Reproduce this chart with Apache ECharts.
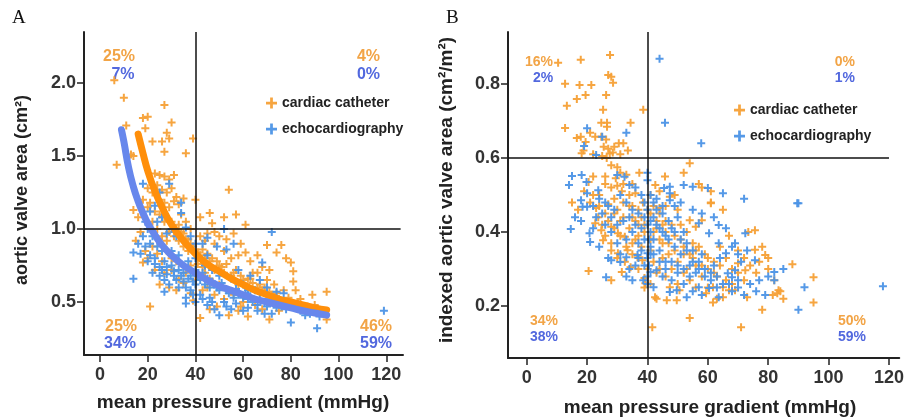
<!DOCTYPE html>
<html><head><meta charset="utf-8">
<script src="https://cdn.jsdelivr.net/npm/echarts@6/dist/echarts.min.js"></script>
<style>html,body{margin:0;padding:0;background:#fff}#c{width:907px;height:417px}</style>
</head><body><div id="c"></div>
<script>
const xTicks = [0,20,40,60,80,100,120];
const yTicksA = [0.5,1.0,1.5,2.0];
const yTicksB = [0.2,0.4,0.6,0.8];
const seriesNames = ['cardiac catheter','echocardiography'];
const xName = 'mean pressure gradient (mmHg)';
const yNameA = 'aortic valve area (cm²)';
const yNameB = 'indexed aortic valve area (cm²/m²)';

const catheterA = [[6,2.02],[10,1.90],[11,1.71],[7,1.44],[13,1.51],[18,1.76],[20,1.77],[19,1.69],[27,1.85],[30,1.73],[28,1.66],[29,1.62],[22,1.60],[26,1.60],[27,1.53],[36,1.52],[39,1.62],[23,1.38],[25,1.37],[27,1.36],[29,1.34],[31,1.37],[54,1.27],[40,1.20],[14,1.50],
[24,1.30],[26,1.27],[28,1.25],[30,1.28],[32,1.22],[25,1.20],[27,1.18],[29,1.15],[31,1.19],[33,1.17],[35,1.21],[22,1.25],[21,1.18],[23,1.12],
[14,1.13],[20,1.15],[46,1.11],[52,1.08],[57,1.10],[61,1.03],[47,1.04],[42,1.08],[45,0.97],[50,0.95],[56,0.97],[59,0.90],[61,0.84],[15,0.92],[18,0.77],[25,0.62],[29,0.60],[21,0.47],[42,0.39],[54,0.41],[49,0.47],[46,0.45],[59,0.47],[62,0.40],[32,0.58],[35,0.63],[38,0.56],[39,0.51],
[70,0.89],[76,0.89],[74,0.84],[78,0.80],[80,0.77],[81,0.71],[68,0.74],[62,0.60],[64,0.63],[71,0.51],[77,0.58],[82,0.58],[81,0.64],[89,0.55],[95,0.57],[95,0.38],[71,0.38],
[30,1.05],[32,1.00],[34,0.98],[36,0.93],[38,0.90],[33,0.92],[35,0.88],[37,0.85],[40,0.86],[42,0.82],[44,0.80],[41,0.76],[43,0.74],[46,0.78],[48,0.72],[50,0.75],[52,0.70],[55,0.68],[57,0.72],[60,0.65],[63,0.66],[58,0.62],[66,0.60],[68,0.58],[72,0.55],[75,0.52],[78,0.50],[83,0.49],[87,0.47],[66,0.70],[70,0.65],[73,0.62],[55,0.80],[52,0.85],[48,0.90],[44,0.92],[38,1.00],[36,1.05],[34,1.10],[28,0.85],[30,0.80],[26,0.78],[24,0.83],[22,0.88],[20,0.80],[45,0.60],[48,0.55],[52,0.52],[56,0.55],[60,0.50],[65,0.48],[40,0.65],[43,0.58],[36,0.70],[33,0.66],[30,0.72],[50,0.62],[68,0.45],[75,0.44],[58,0.44],
[22,1.05],[24,1.00],[26,0.95],[28,0.92],[25,1.10],[27,1.05],[29,0.98],[31,0.95],[33,1.03],[35,0.97],[37,0.93],[39,0.88],[41,0.84],[43,0.86],[45,0.83],[47,0.80],[49,0.78],[51,0.74],[53,0.76],[56,0.70],[59,0.68],[62,0.66],[64,0.70],[67,0.62],[69,0.60],[71,0.57],[74,0.56],[79,0.53],[84,0.52],[90,0.48],[44,0.70],[46,0.66],[38,0.75],[32,0.78],[27,0.70],[23,0.72],[19,0.85],[17,0.98],[16,1.08],[18,1.20],[20,1.28],[42,0.95],[48,0.98],[53,0.93],[58,0.82],[63,0.78],[71,0.72],[66,0.82]];

const echoA = [[14,0.84],[14,0.66],[18,0.95],[21,0.90],[27,0.57],[36,0.49],[40,0.50],[50,0.41],[34,1.11],[28,0.97],[32,0.95],[36,1.01],[43,0.90],[49,0.88],[53,0.86],[25,0.74],[28,0.69],[32,0.65],[36,0.53],[46,0.53],[52,0.50],[56,0.53],[60,0.53],[36,0.60],[18,1.31],[25,1.25],[29,1.31],[34,1.18],[72,0.98],[56,0.90],[52,1.00],[68,0.77],[80,0.36],[91,0.32],[119,0.44],[69,0.42],[74,0.57],[77,0.56],
[20,1.00],[22,0.95],[24,0.88],[26,0.85],[23,0.80],[27,0.78],[30,0.75],[33,0.72],[35,0.70],[38,0.68],[40,0.72],[42,0.65],[44,0.62],[46,0.60],[48,0.62],[50,0.58],[54,0.56],[58,0.55],[62,0.52],[64,0.50],[66,0.48],[70,0.47],[74,0.46],[78,0.45],[84,0.44],[88,0.42],[92,0.40],[30,0.85],[33,0.82],[37,0.78],[40,0.80],[44,0.75],[47,0.72],[50,0.68],[55,0.66],[60,0.62],[65,0.58],[70,0.55],[38,0.58],[42,0.55],[45,0.48],[40,0.62],[35,0.64],[31,0.68],[29,0.62],[25,0.68],[20,0.78],[17,0.83],[48,0.45],[55,0.45],[62,0.46],[66,0.44],[72,0.42],[40,0.90],[38,0.95],[45,0.82],[58,0.72],[63,0.68],[67,0.65],[30,1.00],[24,1.05],
[16,0.90],[19,0.88],[21,0.82],[23,0.76],[26,0.72],[28,0.74],[31,0.71],[34,0.68],[37,0.66],[39,0.64],[41,0.68],[43,0.70],[45,0.66],[47,0.64],[49,0.60],[51,0.63],[53,0.58],[57,0.59],[61,0.56],[63,0.54],[67,0.52],[69,0.50],[73,0.49],[76,0.47],[82,0.46],[86,0.41],[43,0.52],[47,0.50],[53,0.47],[57,0.49],[60,0.44],[39,0.55],[33,0.60],[27,0.65],[22,0.70],[19,1.05],[21,1.12],[23,1.16],[26,1.08],[45,0.94],[62,0.58],[70,0.60]];

const fitCatheterA = [[16,1.65],[18,1.52],[20,1.40],[23,1.26],[26,1.15],[30,1.03],[35,0.92],[40,0.83],[45,0.76],[50,0.71],[55,0.66],[60,0.62],[65,0.58],[70,0.55],[75,0.52],[80,0.50],[85,0.48],[90,0.46],[95,0.445]];
const fitEchoA = [[9,1.68],[10,1.60],[12,1.42],[14,1.29],[16,1.19],[18,1.11],[20,1.04],[23,0.96],[26,0.89],[30,0.82],[35,0.75],[40,0.70],[45,0.65],[50,0.61],[55,0.58],[60,0.55],[65,0.52],[70,0.50],[75,0.48],[80,0.46],[85,0.44],[90,0.425],[95,0.41]];

const catheterB = [[10.4,0.857],[17.9,0.865],[27.6,0.878],[27,0.824],[28,0.819],[28.6,0.803],[12.7,0.80],[17.5,0.797],[21.4,0.797],[13.3,0.741],[16.6,0.759],[19.5,0.77],[26.3,0.77],[12.7,0.681],[25.3,0.73],[24.7,0.695],[26.6,0.695],[26.6,0.684],[34.4,0.695],[38.6,0.73],[16.6,0.654],[17.9,0.657],[19.5,0.643],[21,0.668],[22.7,0.657],[18.8,0.62],[18.2,0.613],[24.7,0.657],[26.3,0.65],
[25.5,0.63],[27,0.625],[29,0.63],[30.5,0.64],[32,0.64],[27.5,0.612],[25,0.605],[26.5,0.60],[28.5,0.615],[31,0.61],[33.5,0.62],[22,0.61],
[28,0.58],[30,0.575],[31,0.56],[29.5,0.545],[22,0.55],[20.5,0.535],[26,0.53],[28,0.52],[30,0.525],[31.5,0.51],[34,0.50],[36,0.505],[37.3,0.56],[33,0.555],[24,0.50],[21,0.48],[19,0.51],[15,0.48],[17,0.46],[23,0.465],[27,0.475],[29,0.49],[32,0.48],[35,0.47],[37,0.46],[38.5,0.48],
[45.8,0.55],[52,0.56],[54,0.586],[57,0.53],[58,0.52],[61,0.51],[61,0.48],[42.6,0.527],[47.4,0.495],[44,0.51],[49,0.50],[41,0.50],
[23.7,0.44],[22.7,0.424],[24.7,0.405],[28,0.414],[30.2,0.397],[25.3,0.378],[28,0.37],[32.5,0.387],[33.4,0.351],[30.2,0.343],[36.7,0.332],[38.3,0.324],[34.4,0.305],[32.5,0.32],[39,0.276],[39.3,0.262],[20.5,0.295],[31.5,0.292],[28,0.27],
[35,0.44],[37,0.42],[39,0.40],[34,0.41],[36,0.38],[38,0.36],[31,0.43],[26,0.45],[29,0.45],
[41,0.45],[43,0.43],[45,0.42],[42,0.40],[44,0.38],[46,0.40],[48,0.42],[47,0.37],[49,0.35],[51,0.38],[52,0.34],[50,0.32],[53,0.30],[55,0.33],[57,0.36],[56,0.31],[59,0.34],[60,0.30],[62,0.32],[58,0.28],[54,0.27],[48,0.30],[45,0.33],[43,0.29],[41,0.35],[46,0.47],[50,0.46],[44,0.465],
[65,0.46],[61,0.478],[58,0.432],[56,0.414],[54,0.432],
[78,0.36],[75.6,0.352],[79,0.338],[75.6,0.405],[73.4,0.4],[70,0.316],[72.4,0.297],[73,0.224],[76,0.29],[42.5,0.224],[43,0.22],[46.4,0.216],[49.7,0.216],[47.4,0.251],[50.6,0.243],[61.7,0.21],[65,0.224],[67,0.243],[69,0.243],[59.4,0.235],[61.7,0.251],[65,0.251],
[41.6,0.143],[54,0.168],[71,0.143],[78,0.19],[88,0.313],[95,0.278],[95,0.21],[85,0.22],[83,0.235],[83.4,0.243],[81.5,0.23],
[64,0.36],[66,0.33],[68,0.30],[70,0.35],[63,0.28],[67,0.39],[72,0.33],[80,0.33],
[30,0.46],[32,0.44],[34,0.47],[36,0.43],[38,0.44],[39,0.42],[37,0.39],[35,0.37],[33,0.36],[31,0.39],[29,0.41],[27,0.43],[25,0.42],[26,0.39],[28,0.35],[30,0.33],[35,0.34],[37,0.30],[42,0.47],[44,0.45],[46,0.43],[43,0.41],[45,0.37],[47,0.34],[49,0.39],[51,0.42],[53,0.40],[55,0.37],[52,0.36],[54,0.34],[56,0.35],[58,0.31],[60,0.33],[62,0.29],[64,0.31],[66,0.27],[68,0.26],[70,0.29],[72,0.27],[74,0.31],[77,0.32],[80,0.30],[82,0.27],[84,0.24],[42,0.32],[44,0.30],[46,0.28],[50,0.26],[52,0.29],[56,0.25],[60,0.25],[63,0.22],[24,0.47],[22,0.50],[26,0.55],[32,0.53],[35,0.53],[40,0.46],[41,0.38],[40,0.30],[39,0.25],[41,0.26]];

const echoB = [[44,0.868],[45.8,0.695],[57.8,0.64],[20,0.68],[25,0.657],[33,0.668],[19,0.632],[23,0.608],[15,0.551],[14,0.527],[18.2,0.554],[19.8,0.535],[20,0.505],[23.7,0.513],[18,0.486],[30,0.554],[32.4,0.549],[34,0.527],[40,0.56],[40,0.54],[45.5,0.519],[47.4,0.522],[52,0.527],[55,0.522],[60,0.519],[65,0.505],[72,0.49],[90,0.478],[47.4,0.505],[47.4,0.486],
[14.6,0.408],[18.5,0.468],[20,0.468],[20.8,0.397],[21,0.373],[26.3,0.278],[28,0.324],[31,0.319],[33,0.332],[36.7,0.338],[40,0.343],[38.6,0.27],[41,0.292],[43,0.297],[42,0.251],[47.4,0.238],[49.7,0.243],[53,0.224],[63.6,0.224],[60.4,0.249],[57,0.251],[70,0.27],[68,0.278],[66.6,0.289],[69,0.297],[82,0.292],[82,0.27],[79,0.23],[90,0.19],[92,0.251],[118,0.254],[89.6,0.478],[63.6,0.37],[66,0.343],[69,0.37],[72.4,0.397],[75.6,0.324],[63.6,0.419],[60.4,0.397],[57,0.424],
[25,0.45],[27,0.47],[29,0.46],[31,0.50],[33,0.48],[35,0.46],[37,0.45],[39,0.44],[40,0.42],[41,0.40],[40.5,0.38],[41,0.36],[40,0.33],[40.5,0.31],[42,0.44],[43,0.46],[45,0.45],[44,0.41],[46,0.39],[48,0.41],[47,0.43],[50,0.44],[52,0.40],[49,0.36],[51,0.34],[53,0.37],[55,0.35],[57,0.32],[54,0.31],[56,0.29],[59,0.30],[61,0.27],[62,0.31],[64,0.33],[58,0.34],[35,0.40],[33,0.38],[37,0.37],[38,0.35],[36,0.31],[34,0.30],[30,0.37],[28,0.40],[26,0.42],[23,0.44],[44,0.35],[46,0.32],[45,0.28],[48,0.27],[50,0.29],[52,0.26],[55,0.24],[58,0.23],[63,0.25],[67,0.26],[71,0.32],[74,0.26],[77,0.27],[80,0.28],[85,0.30],[73,0.35],[38,0.50],[36,0.52],[42,0.48],
[22,0.47],[24,0.49],[26,0.48],[28,0.44],[30,0.42],[32,0.43],[34,0.44],[36,0.42],[38,0.41],[39,0.38],[37,0.33],[39,0.31],[41,0.34],[42,0.38],[43,0.42],[45,0.40],[47,0.38],[49,0.40],[51,0.38],[53,0.35],[55,0.32],[57,0.30],[59,0.28],[61,0.29],[63,0.28],[65,0.26],[68,0.24],[70,0.25],[72,0.23],[76,0.24],[42,0.34],[44,0.32],[46,0.30],[48,0.32],[50,0.31],[52,0.30],[54,0.28],[41,0.43],[40,0.46],[39,0.48],[41,0.50],[43,0.49],[45,0.47],[49,0.47],[51,0.48],[55,0.46],[58,0.45],[62,0.44],[66,0.41],[68,0.36],[70,0.34],[24,0.36],[27,0.33],[31,0.34],[33,0.28],[35,0.27],[16,0.44],[18,0.43],[22,0.41],[40,0.28],[40,0.26]];

const pctA = {tl:['25%','7%'], tr:['4%','0%'], bl:['25%','34%'], br:['46%','59%']};
const pctB = {tl:['16%','2%'], tr:['0%','1%'], bl:['34%','38%'], br:['50%','59%']};

const ORANGE = '#F5A036', BLUE = '#4C93E6';
const ORANGE_LINE = '#FF8F0A', BLUE_LINE = '#6787EC';
const ORANGE_TXT = '#F2A446', BLUE_TXT = '#5268DE';
const PLUS = 'path://M3,0h2v3h3v2h-3v3h-2v-3h-3v-2h3z';
const FONT = 'Liberation Sans';

function xAx(grid, min, max){
  return {gridIndex:grid, type:'value', min:min, max:max,
    axisLine:{show:true, onZero:false, lineStyle:{color:'#222', width:2}},
    axisTick:{show:true, length:7, customValues:xTicks, lineStyle:{color:'#222', width:1.5}},
    axisLabel:{customValues:xTicks, margin:11, fontFamily:FONT, fontWeight:'bold', fontSize:18, color:'#333'},
    splitLine:{show:false}};
}
function yAx(grid, min, max, ticks){
  return {gridIndex:grid, type:'value', min:min, max:max,
    axisLine:{show:true, onZero:false, lineStyle:{color:'#222', width:2}},
    axisTick:{show:true, length:7, customValues:ticks, lineStyle:{color:'#222', width:1.5}},
    axisLabel:{customValues:ticks, margin:8, fontFamily:FONT, fontWeight:'bold', fontSize:18, color:'#333', formatter:v=>v.toFixed(1)},
    splitLine:{show:false}};
}
function scat(name, data, xi, color){
  return {name:name, type:'scatter', xAxisIndex:xi, yAxisIndex:xi, data:data,
    symbol:PLUS, symbolSize:8, itemStyle:{color:color, opacity:0.95}, silent:true, z:2};
}
function refLines(xi, yVal, xEnd, xStart){
  return {type:'scatter', xAxisIndex:xi, yAxisIndex:xi, data:[], silent:true, z:5,
    markLine:{silent:true, symbol:'none', animation:false, label:{show:false},
      lineStyle:{color:'#111', width:1.5, type:'solid'},
      data:[ {xAxis:40}, [{coord:[xStart,yVal]},{coord:[xEnd,yVal]}] ]}};
}
function txt(s, x, y, color, fs, align){
  return {type:'text', x:x, y:y, style:{text:s, fill:color, font:'bold '+fs+'px "'+FONT+'"', textAlign:align, textVerticalAlign:'middle'}};
}

const chart = echarts.init(document.getElementById('c'), null, {renderer:'canvas'});
const graphics = [
  {type:'text', x:12, y:9, style:{text:'A', fill:'#111', font:'19px "Liberation Serif"'}},
  {type:'text', x:446, y:9, style:{text:'B', fill:'#111', font:'19px "Liberation Serif"'}},
  {type:'text', x:22, y:190, rotation:Math.PI/2, style:{text:yNameA, fill:'#222', font:'bold 18px "'+FONT+'"', textAlign:'center', textVerticalAlign:'middle'}},
  {type:'text', x:447, y:190, rotation:Math.PI/2, style:{text:yNameB, fill:'#222', font:'bold 19px "'+FONT+'"', textAlign:'center', textVerticalAlign:'middle'}},
  {type:'text', x:243, y:403, style:{text:xName, fill:'#222', font:'bold 19px "'+FONT+'"', textAlign:'center', textVerticalAlign:'middle'}},
  {type:'text', x:710, y:408, style:{text:xName, fill:'#222', font:'bold 19px "'+FONT+'"', textAlign:'center', textVerticalAlign:'middle'}},
  txt(pctA.tl[0],119,57,ORANGE_TXT,16,'center'), txt(pctA.tl[1],123,75,BLUE_TXT,16,'center'),
  txt(pctA.tr[0],380,57,ORANGE_TXT,16,'right'), txt(pctA.tr[1],380,75,BLUE_TXT,16,'right'),
  txt(pctA.bl[0],121,327,ORANGE_TXT,16,'center'), txt(pctA.bl[1],120,344,BLUE_TXT,16,'center'),
  txt(pctA.br[0],392,327,ORANGE_TXT,16,'right'), txt(pctA.br[1],392,344,BLUE_TXT,16,'right'),
  txt(pctB.tl[0],539,62,ORANGE_TXT,14,'center'), txt(pctB.tl[1],543,78,BLUE_TXT,14,'center'),
  txt(pctB.tr[0],855,62,ORANGE_TXT,14,'right'), txt(pctB.tr[1],855,78,BLUE_TXT,14,'right'),
  txt(pctB.bl[0],544,321,ORANGE_TXT,14,'center'), txt(pctB.bl[1],544,337,BLUE_TXT,14,'center'),
  txt(pctB.br[0],866,321,ORANGE_TXT,14,'right'), txt(pctB.br[1],866,337,BLUE_TXT,14,'right')
];

const legendCommon = {orient:'vertical', icon:PLUS, itemWidth:11, itemHeight:11, itemGap:12,
  textStyle:{fontFamily:FONT, fontSize:14, fontWeight:'bold', color:'#222'}, selectedMode:false, data:seriesNames};

chart.setOption({
  animation:false,
  backgroundColor:'#fff',
  grid:[{left:84, top:32, width:319, height:323},{left:508, top:32, width:399, height:326}],
  xAxis:[xAx(0,-6.7,127), xAx(1,-6.2,123.4)],
  yAxis:[yAx(0,0.137,2.35,yTicksA), yAx(1,0.06,0.94,yTicksB)],
  legend:[Object.assign({left:261, top:91}, legendCommon), Object.assign({left:729, top:98}, legendCommon)],
  graphic:graphics,
  series:[
    scat(seriesNames[0], catheterA, 0, ORANGE),
    scat(seriesNames[1], echoA, 0, BLUE),
    {name:'fit catheter', type:'line', xAxisIndex:0, yAxisIndex:0, data:fitCatheterA, smooth:true, showSymbol:false, silent:true, z:4, lineStyle:{color:ORANGE_LINE, width:7, cap:'round'}},
    {name:'fit echo', type:'line', xAxisIndex:0, yAxisIndex:0, data:fitEchoA, smooth:true, showSymbol:false, silent:true, z:4, lineStyle:{color:BLUE_LINE, width:7, cap:'round'}},
    refLines(0, 1.0, 126, -6.7),
    scat(seriesNames[0], catheterB, 1, ORANGE),
    scat(seriesNames[1], echoB, 1, BLUE),
    refLines(1, 0.6, 120, -6.2)
  ]
});
</script></body></html>
